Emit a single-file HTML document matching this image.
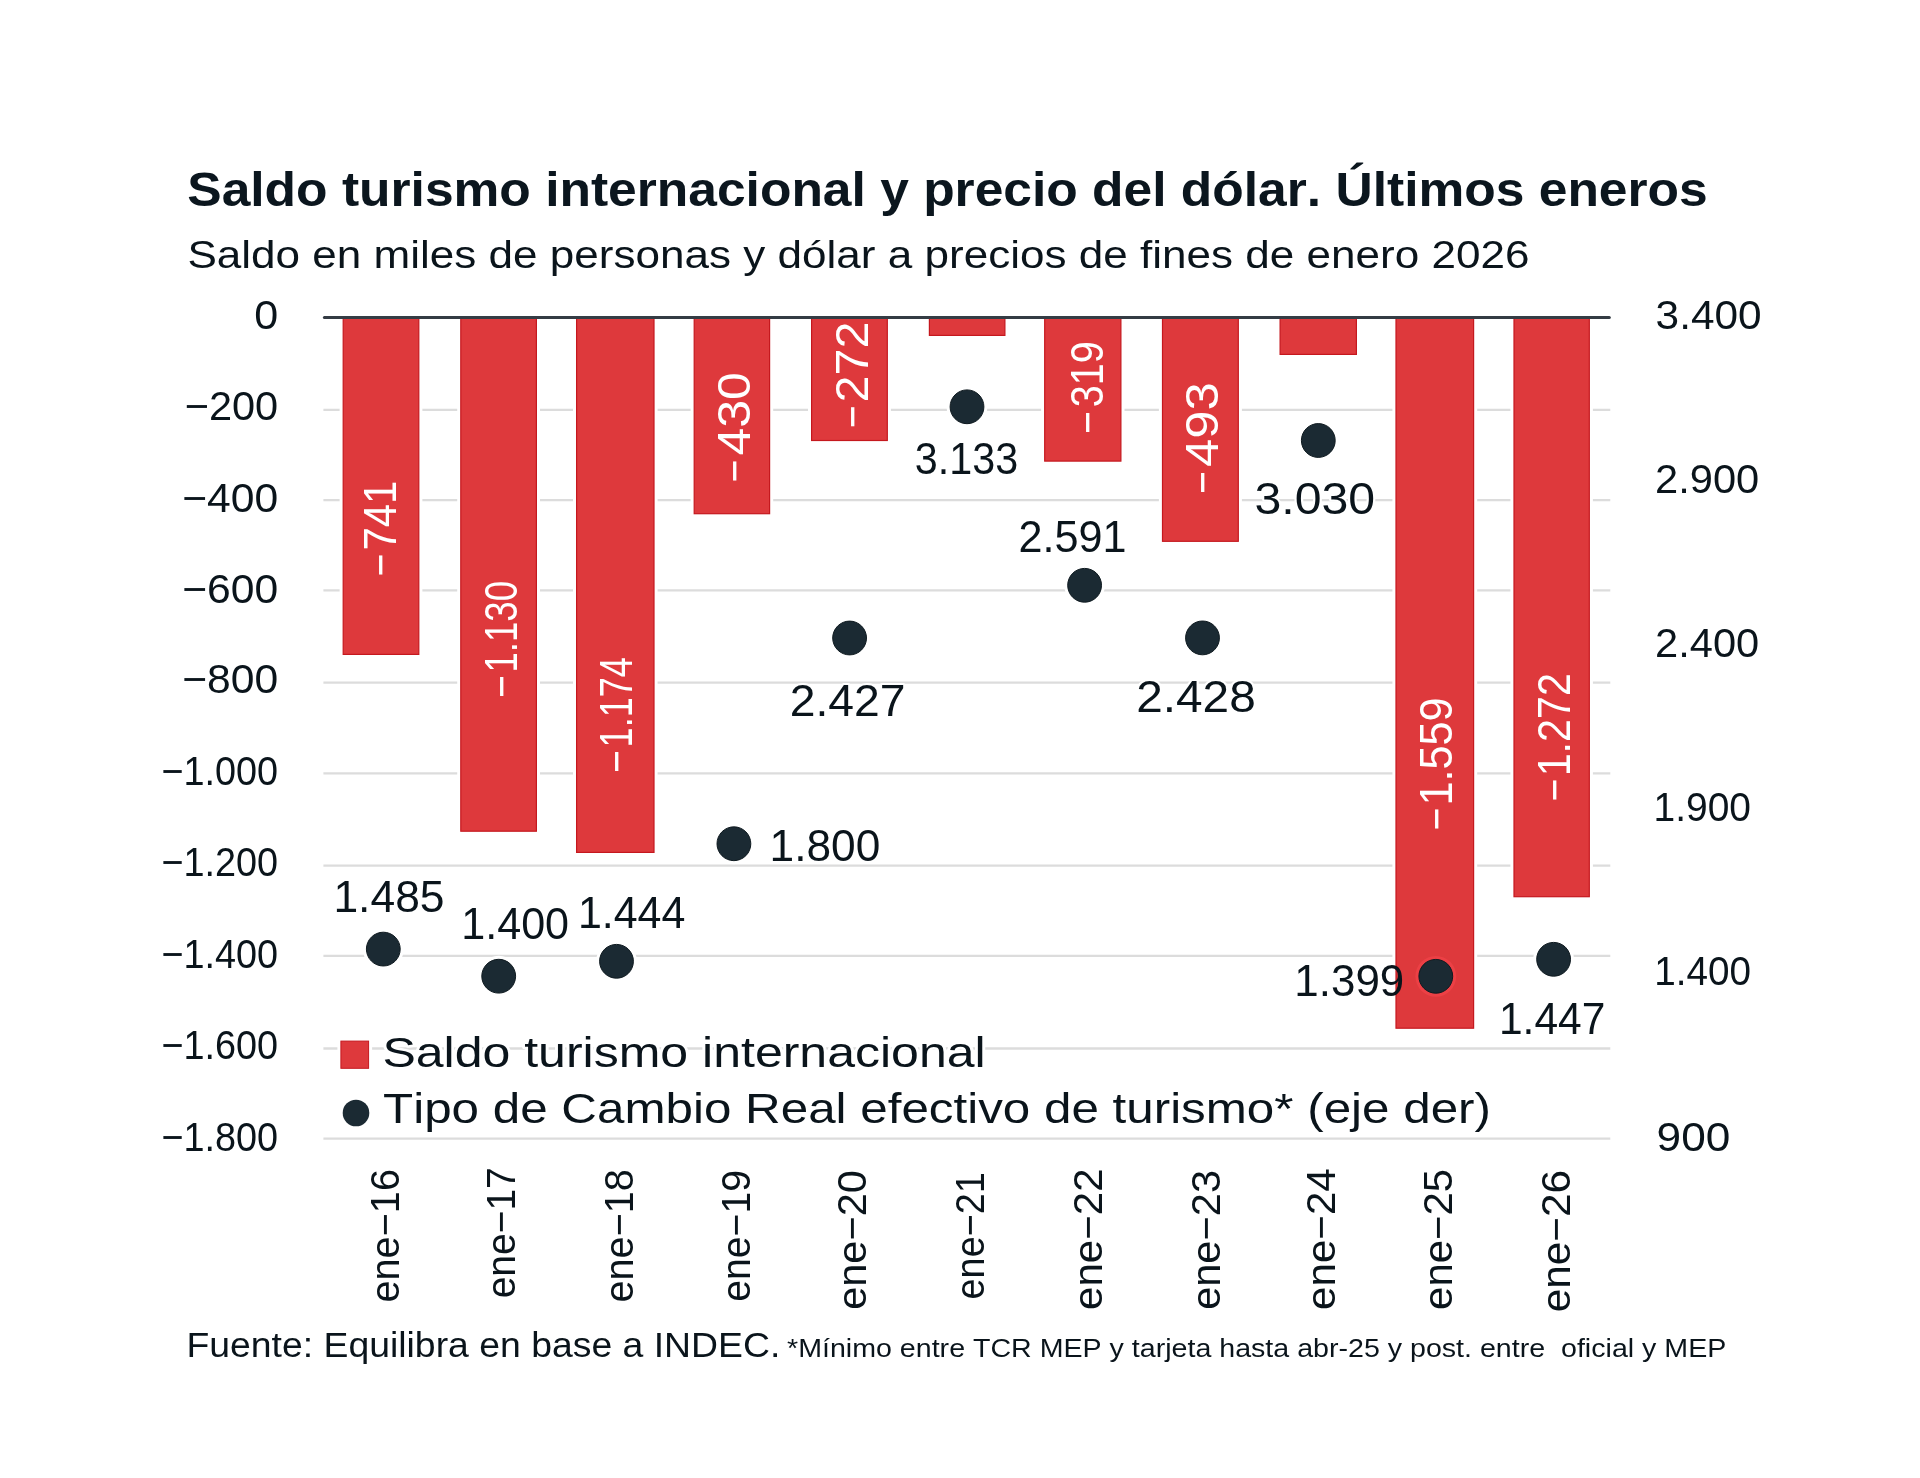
<!DOCTYPE html>
<html lang="es"><head><meta charset="utf-8"><title>Saldo turismo internacional y precio del dólar</title>
<style>html,body{margin:0;padding:0;background:#fff;width:1920px;height:1478px;overflow:hidden}
text{font-kerning:none;white-space:pre}</style></head><body>
<svg width="1920" height="1478" viewBox="0 0 1920 1478" style="display:block;will-change:transform">
<rect width="1920" height="1478" fill="#ffffff"/>
<g font-family="&quot;Liberation Sans&quot;, Arial, sans-serif">
<text x="187.27" y="205.60" font-size="48.50" font-weight="bold" textLength="1520.45" lengthAdjust="spacingAndGlyphs" fill="#0b161e">Saldo turismo internacional y precio del dólar. Últimos eneros</text>
<text x="187.40" y="268.10" font-size="38.00" textLength="1342.04" lengthAdjust="spacingAndGlyphs" fill="#0a141b">Saldo en miles de personas y dólar a precios de fines de enero 2026</text>
<line x1="323.4" y1="409.90" x2="1610.3" y2="409.90" stroke="#dcdcdc" stroke-width="2.3"/>
<line x1="323.4" y1="500.10" x2="1610.3" y2="500.10" stroke="#dcdcdc" stroke-width="2.3"/>
<line x1="323.4" y1="590.30" x2="1610.3" y2="590.30" stroke="#dcdcdc" stroke-width="2.3"/>
<line x1="323.4" y1="682.70" x2="1610.3" y2="682.70" stroke="#dcdcdc" stroke-width="2.3"/>
<line x1="323.4" y1="773.40" x2="1610.3" y2="773.40" stroke="#dcdcdc" stroke-width="2.3"/>
<line x1="323.4" y1="865.70" x2="1610.3" y2="865.70" stroke="#dcdcdc" stroke-width="2.3"/>
<line x1="323.4" y1="955.80" x2="1610.3" y2="955.80" stroke="#dcdcdc" stroke-width="2.3"/>
<line x1="323.4" y1="1048.50" x2="1610.3" y2="1048.50" stroke="#dcdcdc" stroke-width="2.3"/>
<line x1="323.4" y1="1138.70" x2="1610.3" y2="1138.70" stroke="#dcdcdc" stroke-width="2.3"/>
<rect x="339.60" y="318.00" width="82.80" height="340.00" fill="#fff"/>
<rect x="457.20" y="318.00" width="82.80" height="516.80" fill="#fff"/>
<rect x="573.00" y="318.00" width="84.60" height="538.00" fill="#fff"/>
<rect x="690.60" y="318.00" width="82.60" height="199.30" fill="#fff"/>
<rect x="808.00" y="318.00" width="82.90" height="126.10" fill="#fff"/>
<rect x="925.80" y="318.00" width="82.70" height="21.00" fill="#fff"/>
<rect x="1041.10" y="318.00" width="83.40" height="146.70" fill="#fff"/>
<rect x="1158.90" y="318.00" width="83.00" height="226.90" fill="#fff"/>
<rect x="1276.50" y="318.00" width="83.50" height="40.00" fill="#fff"/>
<rect x="1392.40" y="318.00" width="84.80" height="713.80" fill="#fff"/>
<rect x="1510.40" y="318.00" width="82.50" height="582.30" fill="#fff"/>
<rect x="343.20" y="318.00" width="75.60" height="336.40" fill="#de393c" stroke="#c5181e" stroke-width="1.2"/>
<rect x="460.80" y="318.00" width="75.60" height="513.20" fill="#de393c" stroke="#c5181e" stroke-width="1.2"/>
<rect x="576.60" y="318.00" width="77.40" height="534.40" fill="#de393c" stroke="#c5181e" stroke-width="1.2"/>
<rect x="694.20" y="318.00" width="75.40" height="195.70" fill="#de393c" stroke="#c5181e" stroke-width="1.2"/>
<rect x="811.60" y="318.00" width="75.70" height="122.50" fill="#de393c" stroke="#c5181e" stroke-width="1.2"/>
<rect x="929.40" y="318.00" width="75.50" height="17.40" fill="#de393c" stroke="#c5181e" stroke-width="1.2"/>
<rect x="1044.70" y="318.00" width="76.20" height="143.10" fill="#de393c" stroke="#c5181e" stroke-width="1.2"/>
<rect x="1162.50" y="318.00" width="75.80" height="223.30" fill="#de393c" stroke="#c5181e" stroke-width="1.2"/>
<rect x="1280.10" y="318.00" width="76.30" height="36.40" fill="#de393c" stroke="#c5181e" stroke-width="1.2"/>
<rect x="1396.00" y="318.00" width="77.60" height="710.20" fill="#de393c" stroke="#c5181e" stroke-width="1.2"/>
<rect x="1514.00" y="318.00" width="75.30" height="578.70" fill="#de393c" stroke="#c5181e" stroke-width="1.2"/>
<line x1="324.4" y1="317.40" x2="1609.3" y2="317.40" stroke="#343c44" stroke-width="3" stroke-linecap="round"/>
<text transform="translate(395.50 0) rotate(-90)" font-size="46.00" fill="#ffffff"><tspan x="-576.33" y="0" textLength="22.84" lengthAdjust="spacingAndGlyphs">−</tspan><tspan x="-550.54" y="0" textLength="69.68" lengthAdjust="spacingAndGlyphs">741</tspan></text>
<text transform="translate(517.40 0) rotate(-90)" font-size="46.00" fill="#ffffff"><tspan x="-697.73" y="0" textLength="22.84" lengthAdjust="spacingAndGlyphs">−</tspan><tspan x="-672.59" y="0" textLength="91.72" lengthAdjust="spacingAndGlyphs">1.130</tspan></text>
<text transform="translate(632.10 0) rotate(-90)" font-size="46.00" fill="#ffffff"><tspan x="-772.63" y="0" textLength="22.84" lengthAdjust="spacingAndGlyphs">−</tspan><tspan x="-747.45" y="0" textLength="90.41" lengthAdjust="spacingAndGlyphs">1.174</tspan></text>
<text transform="translate(750.00 0) rotate(-90)" font-size="46.00" fill="#ffffff"><tspan x="-482.33" y="0" textLength="22.84" lengthAdjust="spacingAndGlyphs">−</tspan><tspan x="-455.55" y="0" textLength="83.50" lengthAdjust="spacingAndGlyphs">430</tspan></text>
<text transform="translate(868.30 0) rotate(-90)" font-size="46.00" fill="#ffffff"><tspan x="-428.03" y="0" textLength="22.84" lengthAdjust="spacingAndGlyphs">−</tspan><tspan x="-402.54" y="0" textLength="80.88" lengthAdjust="spacingAndGlyphs">272</tspan></text>
<text transform="translate(1102.70 0) rotate(-90)" font-size="46.00" fill="#ffffff"><tspan x="-433.63" y="0" textLength="22.84" lengthAdjust="spacingAndGlyphs">−</tspan><tspan x="-407.21" y="0" textLength="66.08" lengthAdjust="spacingAndGlyphs">319</tspan></text>
<text transform="translate(1217.70 0) rotate(-90)" font-size="46.00" fill="#ffffff"><tspan x="-493.73" y="0" textLength="22.84" lengthAdjust="spacingAndGlyphs">−</tspan><tspan x="-466.97" y="0" textLength="84.80" lengthAdjust="spacingAndGlyphs">493</tspan></text>
<text transform="translate(1452.10 0) rotate(-90)" font-size="46.00" fill="#ffffff"><tspan x="-830.23" y="0" textLength="22.84" lengthAdjust="spacingAndGlyphs">−</tspan><tspan x="-805.59" y="0" textLength="108.03" lengthAdjust="spacingAndGlyphs">1.559</tspan></text>
<text transform="translate(1570.00 0) rotate(-90)" font-size="46.00" fill="#ffffff"><tspan x="-801.13" y="0" textLength="22.84" lengthAdjust="spacingAndGlyphs">−</tspan><tspan x="-776.34" y="0" textLength="103.22" lengthAdjust="spacingAndGlyphs">1.272</tspan></text>
<circle cx="383.30" cy="949.10" r="20.40" fill="#fff"/>
<circle cx="498.70" cy="976.20" r="20.40" fill="#fff"/>
<circle cx="616.50" cy="961.30" r="20.40" fill="#fff"/>
<circle cx="733.90" cy="843.75" r="20.40" fill="#fff"/>
<circle cx="849.60" cy="638.00" r="20.40" fill="#fff"/>
<circle cx="967.00" cy="406.80" r="20.40" fill="#fff"/>
<circle cx="1084.60" cy="585.30" r="20.40" fill="#fff"/>
<circle cx="1202.50" cy="637.90" r="20.40" fill="#fff"/>
<circle cx="1318.30" cy="440.50" r="20.40" fill="#fff"/>
<circle cx="1435.80" cy="976.30" r="20.40" fill="#ec4045"/>
<circle cx="1553.60" cy="959.30" r="20.40" fill="#fff"/>
<circle cx="383.30" cy="949.10" r="16.90" fill="#1b2a33" stroke="#0f1a20" stroke-width="1"/>
<circle cx="498.70" cy="976.20" r="16.90" fill="#1b2a33" stroke="#0f1a20" stroke-width="1"/>
<circle cx="616.50" cy="961.30" r="16.90" fill="#1b2a33" stroke="#0f1a20" stroke-width="1"/>
<circle cx="733.90" cy="843.75" r="16.90" fill="#1b2a33" stroke="#0f1a20" stroke-width="1"/>
<circle cx="849.60" cy="638.00" r="16.90" fill="#1b2a33" stroke="#0f1a20" stroke-width="1"/>
<circle cx="967.00" cy="406.80" r="16.90" fill="#1b2a33" stroke="#0f1a20" stroke-width="1"/>
<circle cx="1084.60" cy="585.30" r="16.90" fill="#1b2a33" stroke="#0f1a20" stroke-width="1"/>
<circle cx="1202.50" cy="637.90" r="16.90" fill="#1b2a33" stroke="#0f1a20" stroke-width="1"/>
<circle cx="1318.30" cy="440.50" r="16.90" fill="#1b2a33" stroke="#0f1a20" stroke-width="1"/>
<circle cx="1435.80" cy="976.30" r="16.90" fill="#1b2a33" stroke="#0f1a20" stroke-width="1"/>
<circle cx="1553.60" cy="959.30" r="16.90" fill="#1b2a33" stroke="#0f1a20" stroke-width="1"/>
<text x="333.42" y="911.60" font-size="43.80" textLength="111.15" lengthAdjust="spacingAndGlyphs" fill="#0a141b">1.485</text>
<text x="461.22" y="938.90" font-size="43.80" textLength="107.87" lengthAdjust="spacingAndGlyphs" fill="#0a141b">1.400</text>
<text x="577.93" y="928.20" font-size="43.80" textLength="107.43" lengthAdjust="spacingAndGlyphs" fill="#0a141b">1.444</text>
<text x="769.53" y="860.60" font-size="43.80" textLength="110.80" lengthAdjust="spacingAndGlyphs" fill="#0a141b">1.800</text>
<text x="789.67" y="716.30" font-size="43.80" textLength="115.86" lengthAdjust="spacingAndGlyphs" fill="#0a141b" stroke="#fff" stroke-width="4" stroke-linejoin="round" paint-order="stroke">2.427</text>
<text x="914.83" y="474.40" font-size="43.80" textLength="103.29" lengthAdjust="spacingAndGlyphs" fill="#0a141b">3.133</text>
<text x="1018.53" y="552.30" font-size="43.80" textLength="107.98" lengthAdjust="spacingAndGlyphs" fill="#0a141b">2.591</text>
<text x="1136.20" y="711.50" font-size="43.80" textLength="119.58" lengthAdjust="spacingAndGlyphs" fill="#0a141b" stroke="#fff" stroke-width="4" stroke-linejoin="round" paint-order="stroke">2.428</text>
<text x="1254.46" y="514.00" font-size="43.80" textLength="120.62" lengthAdjust="spacingAndGlyphs" fill="#0a141b" stroke="#fff" stroke-width="4" stroke-linejoin="round" paint-order="stroke">3.030</text>
<text x="1294.35" y="995.80" font-size="43.80" textLength="109.93" lengthAdjust="spacingAndGlyphs" fill="#0a141b">1.399</text>
<text x="1498.96" y="1034.20" font-size="43.80" textLength="106.38" lengthAdjust="spacingAndGlyphs" fill="#0a141b">1.447</text>
<text x="254.32" y="329.40" font-size="40.60" textLength="23.97" lengthAdjust="spacingAndGlyphs" fill="#0a141b">0</text>
<text x="184.65" y="419.50" font-size="40.60" textLength="93.57" lengthAdjust="spacingAndGlyphs" fill="#0a141b">−200</text>
<text x="182.20" y="512.10" font-size="40.60" textLength="96.07" lengthAdjust="spacingAndGlyphs" fill="#0a141b">−400</text>
<text x="182.20" y="602.60" font-size="40.60" textLength="96.07" lengthAdjust="spacingAndGlyphs" fill="#0a141b">−600</text>
<text x="182.20" y="692.80" font-size="40.60" textLength="96.07" lengthAdjust="spacingAndGlyphs" fill="#0a141b">−800</text>
<text x="161.44" y="785.30" font-size="40.60" textLength="116.64" lengthAdjust="spacingAndGlyphs" fill="#0a141b">−1.000</text>
<text x="161.44" y="875.90" font-size="40.60" textLength="116.64" lengthAdjust="spacingAndGlyphs" fill="#0a141b">−1.200</text>
<text x="161.44" y="967.60" font-size="40.60" textLength="116.64" lengthAdjust="spacingAndGlyphs" fill="#0a141b">−1.400</text>
<text x="161.44" y="1058.60" font-size="40.60" textLength="116.64" lengthAdjust="spacingAndGlyphs" fill="#0a141b">−1.600</text>
<text x="161.44" y="1151.20" font-size="40.60" textLength="116.64" lengthAdjust="spacingAndGlyphs" fill="#0a141b">−1.800</text>
<text x="1655.59" y="329.00" font-size="40.60" textLength="105.97" lengthAdjust="spacingAndGlyphs" fill="#0a141b">3.400</text>
<text x="1655.11" y="492.70" font-size="40.60" textLength="104.12" lengthAdjust="spacingAndGlyphs" fill="#0a141b">2.900</text>
<text x="1655.11" y="657.20" font-size="40.60" textLength="104.12" lengthAdjust="spacingAndGlyphs" fill="#0a141b">2.400</text>
<text x="1653.53" y="820.90" font-size="40.60" textLength="97.49" lengthAdjust="spacingAndGlyphs" fill="#0a141b">1.900</text>
<text x="1654.25" y="985.00" font-size="40.60" textLength="96.76" lengthAdjust="spacingAndGlyphs" fill="#0a141b">1.400</text>
<text x="1656.63" y="1150.90" font-size="40.60" textLength="73.70" lengthAdjust="spacingAndGlyphs" fill="#0a141b">900</text>
<text transform="translate(399.20 1302.48) rotate(-90)" x="0" y="0" font-size="41.00" textLength="133.43" lengthAdjust="spacingAndGlyphs" fill="#0a141b">ene−16</text>
<text transform="translate(515.00 1298.36) rotate(-90)" x="0" y="0" font-size="41.00" textLength="131.12" lengthAdjust="spacingAndGlyphs" fill="#0a141b">ene−17</text>
<text transform="translate(632.50 1302.48) rotate(-90)" x="0" y="0" font-size="41.00" textLength="133.41" lengthAdjust="spacingAndGlyphs" fill="#0a141b">ene−18</text>
<text transform="translate(749.90 1301.76) rotate(-90)" x="0" y="0" font-size="41.00" textLength="131.82" lengthAdjust="spacingAndGlyphs" fill="#0a141b">ene−19</text>
<text transform="translate(865.60 1309.86) rotate(-90)" x="0" y="0" font-size="41.00" textLength="139.69" lengthAdjust="spacingAndGlyphs" fill="#0a141b">ene−20</text>
<text transform="translate(983.60 1299.41) rotate(-90)" x="0" y="0" font-size="41.00" textLength="127.25" lengthAdjust="spacingAndGlyphs" fill="#0a141b">ene−21</text>
<text transform="translate(1101.60 1309.89) rotate(-90)" x="0" y="0" font-size="41.00" textLength="141.40" lengthAdjust="spacingAndGlyphs" fill="#0a141b">ene−22</text>
<text transform="translate(1219.60 1309.87) rotate(-90)" x="0" y="0" font-size="41.00" textLength="139.89" lengthAdjust="spacingAndGlyphs" fill="#0a141b">ene−23</text>
<text transform="translate(1335.30 1309.89) rotate(-90)" x="0" y="0" font-size="41.00" textLength="141.62" lengthAdjust="spacingAndGlyphs" fill="#0a141b">ene−24</text>
<text transform="translate(1452.20 1309.88) rotate(-90)" x="0" y="0" font-size="41.00" textLength="141.04" lengthAdjust="spacingAndGlyphs" fill="#0a141b">ene−25</text>
<text transform="translate(1570.20 1312.20) rotate(-90)" x="0" y="0" font-size="41.00" textLength="142.25" lengthAdjust="spacingAndGlyphs" fill="#0a141b">ene−26</text>
<rect x="337.4" y="1037.6" width="34.7" height="34.2" fill="#fff"/>
<rect x="340.9" y="1041.1" width="27.7" height="27.2" fill="#de393c" stroke="#c5181e" stroke-width="1"/>
<circle cx="356" cy="1113" r="13.3" fill="#1b2a33"/>
<text x="382.43" y="1067.20" font-size="42.80" textLength="603.22" lengthAdjust="spacingAndGlyphs" fill="#0a141b" stroke="#fff" stroke-width="5" stroke-linejoin="round" paint-order="stroke">Saldo turismo internacional</text>
<text x="383.09" y="1123.40" font-size="42.80" textLength="1107.87" lengthAdjust="spacingAndGlyphs" fill="#0a141b" stroke="#fff" stroke-width="5" stroke-linejoin="round" paint-order="stroke">Tipo de Cambio Real efectivo de turismo* (eje der)</text>
<text x="186.44" y="1357.00" font-size="34.40" textLength="593.88" lengthAdjust="spacingAndGlyphs" fill="#0a141b">Fuente: Equilibra en base a INDEC.</text>
<text x="787.04" y="1357.00" font-size="26.00" textLength="939.27" lengthAdjust="spacingAndGlyphs" fill="#0a141b">*Mínimo entre TCR MEP y tarjeta hasta abr-25 y post. entre  oficial y MEP</text>
</g></svg>
</body></html>
